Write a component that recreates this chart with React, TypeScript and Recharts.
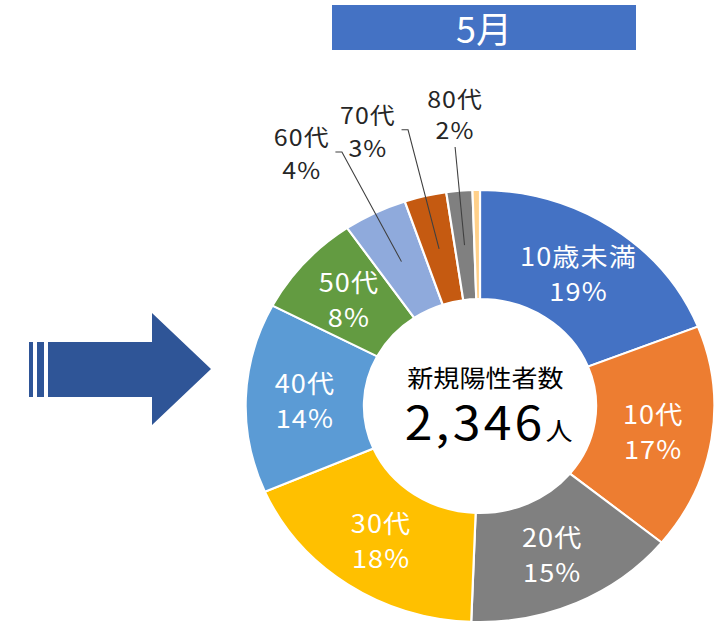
import { PieChart, Pie, Cell, Label } from "recharts"

const categories = ["10歳未満", "10代", "20代", "30代", "40代", "50代", "60代", "70代", "80代", "90代"]
const counts = [446, 396, 345, 420, 333, 181, 103, 68, 42, 12]
const COLORS = ["#4472C4", "#ED7D31", "#808080", "#FFC000", "#5B9BD5", "#639B41", "#8FAADC", "#C55A11", "#808080", "#FFD08A"]
const total = counts.reduce((a, b) => a + b, 0)

const data = categories.map((name, i) => ({ name, value: counts[i] }))

const FONT = "'Noto Sans CJK JP', 'Noto Sans', sans-serif"
const RAD = Math.PI / 180
const CX = 480
const CY = 406

const renderLabel = (props: any) => {
  const { cx, cy, midAngle, innerRadius, outerRadius, percent, name } = props
  const pt = (r: number) => ({
    x: cx + r * Math.cos(-midAngle * RAD),
    y: cy + r * Math.sin(-midAngle * RAD)
  })
  const pct = `${Math.round(percent * 100)}%`
  if (percent < 0.01) return null
  const mid = pt((innerRadius + outerRadius) / 2)
  if (percent >= 0.05) {
    return (
      <g>
        <text x={mid.x} y={mid.y - 17} fill="#fff" fontSize={25} letterSpacing={1} fontFamily={FONT} textAnchor="middle" dominantBaseline="central">{name}</text>
        <text x={mid.x} y={mid.y + 18} fill="#fff" fontSize={25} letterSpacing={1} fontFamily={FONT} textAnchor="middle" dominantBaseline="central">{pct}</text>
      </g>
    )
  }
  // small slices: leader line to a label outside the ring
  const ang = ((midAngle % 360) + 360) % 360
  if (ang > 82 && ang < 98) {
    const end = pt(outerRadius + 44)
    return (
      <g>
        <line x1={mid.x} y1={mid.y} x2={end.x} y2={end.y} stroke="#404040" strokeWidth={1} />
        <text x={end.x} y={end.y - 49} fill="#262626" fontSize={23} letterSpacing={1} fontFamily={FONT} textAnchor="middle" dominantBaseline="central">{name}</text>
        <text x={end.x} y={end.y - 18} fill="#262626" fontSize={23} letterSpacing={1} fontFamily={FONT} textAnchor="middle" dominantBaseline="central">{pct}</text>
      </g>
    )
  }
  const elbow = pt(outerRadius + 68)
  return (
    <g>
      <polyline points={`${mid.x},${mid.y} ${elbow.x},${elbow.y} ${elbow.x - 6},${elbow.y}`} fill="none" stroke="#404040" strokeWidth={1} />
      <text x={elbow.x - 37} y={elbow.y - 16} fill="#262626" fontSize={23} letterSpacing={1} fontFamily={FONT} textAnchor="middle" dominantBaseline="central">{name}</text>
      <text x={elbow.x - 37} y={elbow.y + 17} fill="#262626" fontSize={23} letterSpacing={1} fontFamily={FONT} textAnchor="middle" dominantBaseline="central">{pct}</text>
    </g>
  )
}

const CenterText = () => (
  <g fontFamily={FONT}>
    <text x={CX + 5} y={CY - 30} fontSize={24} fill="#000" textAnchor="middle" dominantBaseline="central">新規陽性者数</text>
    <text x={CX + 8} y={CY + 34} fill="#000" textAnchor="middle">
      <tspan fontSize={46} letterSpacing={3}>{total.toLocaleString("en-US")}</tspan>
      <tspan fontSize={25}>人</tspan>
    </text>
  </g>
)

export default function App() {
  return (
    <div style={{ position: "absolute", left: 0, top: 0, width: 715, height: 625, overflow: "hidden", background: "#fff" }}>
      <div style={{
        position: "absolute", left: 332, top: 5, width: 304, height: 45, background: "#4472C4",
        color: "#fff", fontFamily: FONT, fontSize: 36, lineHeight: "45px", textAlign: "center"
      }}>5月</div>
      <svg width={715} height={625} style={{ position: "absolute", left: 0, top: 0 }}>
        <rect x={29} y={342} width={4} height={55} fill="#2F5597" />
        <rect x={37} y={342} width={7} height={55} fill="#2F5597" />
        <polygon points="48,342 152,342 152,313 211,369 152,425 152,397 48,397" fill="#2F5597" />
      </svg>
      <div style={{ position: "absolute", left: 0, top: 0, transform: "scaleX(1.085)", transformOrigin: `${CX}px ${CY}px` }}>
        <PieChart width={715} height={625} margin={{ top: 0, right: 0, bottom: 0, left: 0 }}>
          <Pie
            data={data}
            dataKey="value"
            nameKey="name"
            cx={CX}
            cy={CY}
            innerRadius={107}
            outerRadius={216}
            startAngle={90}
            endAngle={-270}
            stroke="#fff"
            strokeWidth={2}
            label={renderLabel}
            labelLine={false}
            isAnimationActive={false}
          >
            {data.map((_, i) => (
              <Cell key={`cell-${i}`} fill={COLORS[i]} />
            ))}
            <Label position="center" content={CenterText} />
          </Pie>
        </PieChart>
      </div>
    </div>
  )
}
